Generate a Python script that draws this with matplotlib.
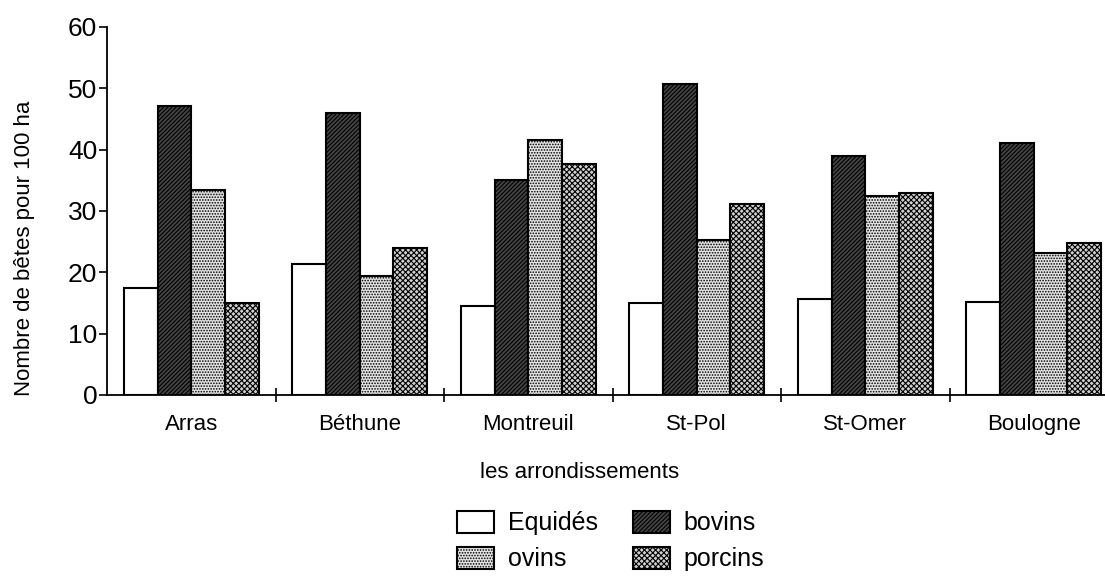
import matplotlib
matplotlib.use("Agg")
import matplotlib.pyplot as plt
import numpy as np
from matplotlib.ticker import FixedLocator

plt.rcParams['font.family'] = ['Liberation Sans Narrow', 'Liberation Sans', 'DejaVu Sans']
plt.rcParams['hatch.linewidth'] = 0.8

arrondissements = ["Arras", "Béthune", "Montreuil", "St-Pol", "St-Omer", "Boulogne"]
series_names = ["Equidés", "bovins", "ovins", "porcins"]
equides = [17.5, 21.3, 14.5, 15.0, 15.7, 15.1]
bovins = [47.1, 46.0, 35.0, 50.7, 38.9, 41.1]
ovins = [33.4, 19.4, 41.5, 25.3, 32.4, 23.2]
porcins = [15.0, 24.0, 37.6, 31.1, 33.0, 24.8]

# look of each series: face colour and hatch
faces = ["white", "#454545", "#e4e4e4", "#d0d0d0"]
hatches = [None, "////////", "......", "xxxxxx"]

fig = plt.figure(figsize=(11.05, 5.76), dpi=100)
ax = fig.add_axes([107 / 1105, 1 - 395 / 576, (1105 - 107) / 1105, (395 - 27) / 576])

x = np.arange(len(arrondissements)) + 0.5
w = 0.2
values = [equides, bovins, ovins, porcins]
bars = []
for i, vals in enumerate(values):
    b = ax.bar(x + (i - 1.5) * w, vals, w, color=faces[i], edgecolor="black",
               linewidth=1.5, hatch=hatches[i], label=series_names[i])
    bars.append(b)

ax.set_ylim(0, 60)
ax.set_xlim(0, (1105 - 107) / 168.5)
ax.set_yticks(range(0, 61, 10))
ax.tick_params(axis="y", labelsize=19, length=6, width=1.2, direction="out", pad=1)
ax.set_xticks(x)
ax.set_xticklabels(arrondissements, fontsize=16)
ax.tick_params(axis="x", which="major", length=0, pad=14)
ax.xaxis.set_minor_locator(FixedLocator(np.arange(1, 6)))
ax.tick_params(axis="x", which="minor", length=10, width=1.2, direction="inout")

for s in ["top", "right"]:
    ax.spines[s].set_visible(False)
ax.spines["left"].set_linewidth(1.3)
ax.spines["bottom"].set_linewidth(1.3)

fig.text(25 / 1105, 1 - 248 / 576, "Nombre de bêtes pour 100 ha", rotation=90,
         ha="center", va="center", fontsize=16)
fig.text(580 / 1105, 1 - 472 / 576, "les arrondissements", ha="center", va="center", fontsize=16)

# row 1: Equidés, bovins ; row 2: ovins, porcins
order = [0, 2, 1, 3]
fig.legend([bars[k] for k in order], [series_names[k] for k in order],
           loc="center", bbox_to_anchor=(611 / 1105, 1 - 541 / 576), ncol=2,
           frameon=False, fontsize=18, handlelength=1.48, handleheight=1.0,
           columnspacing=1.4, handletextpad=0.55, labelspacing=0.45,
           borderpad=0.2)

fig.savefig("out.png", dpi=100)
